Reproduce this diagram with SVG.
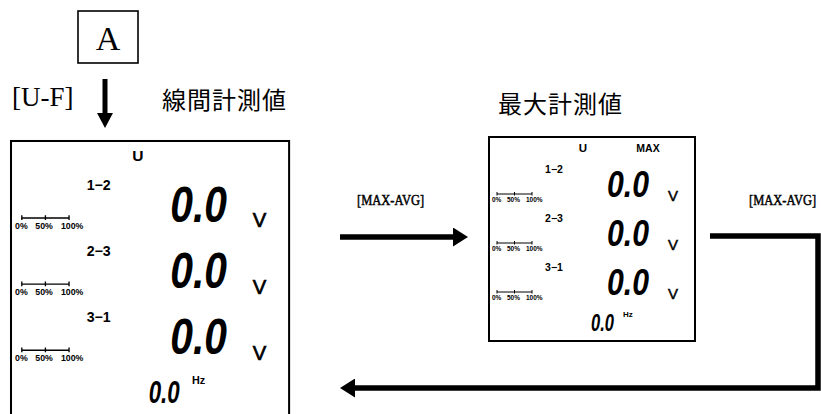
<svg xmlns="http://www.w3.org/2000/svg" width="821" height="414" viewBox="0 0 821 414">
<style>
.bx{fill:none;stroke:#000}
.serif{font-family:"Liberation Serif","Times New Roman",serif;fill:#000}
.jp{font-family:"Noto Sans CJK JP","Noto Sans CJK SC",sans-serif;fill:#000;font-size:24px;letter-spacing:1px}
.key{font-family:"Liberation Serif","Times New Roman",serif;font-size:12.5px;fill:#000;stroke:#000;stroke-width:0.4}
.lb{font-family:"Liberation Sans",Arial,sans-serif;font-weight:bold;fill:#000}
.seg{font-family:"Liberation Sans",Arial,sans-serif;font-weight:bold;font-style:italic;fill:#000}
.v{font-family:"Liberation Sans",Arial,sans-serif;fill:#000;font-size:15px;stroke:#000;stroke-width:0.5}
.pct{font-family:"Liberation Sans",Arial,sans-serif;font-weight:bold;fill:#000;font-size:6.5px}
.bar{fill:none;stroke:#000;stroke-width:1}
.conn{fill:none;stroke:#000;stroke-width:5.5;stroke-linejoin:miter}
</style>
<defs>
<marker id="hd" markerUnits="userSpaceOnUse" viewBox="0 0 15 19" markerWidth="15" markerHeight="19" refX="0" refY="9.5" orient="auto">
<path d="M0,0 L15,9.5 L0,19 Z" fill="#000"/>
</marker>
<marker id="hd2" markerUnits="userSpaceOnUse" viewBox="0 0 15 16" markerWidth="15" markerHeight="16" refX="0" refY="8" orient="auto">
<path d="M0,0 L15,8 L0,16 Z" fill="#000"/>
</marker>
</defs>
<rect width="821" height="414" fill="#fff"/>

<g id="nodeA">
<rect class="bx" x="78" y="11" width="60" height="52" stroke-width="1.6"/>
<text class="serif" x="108" y="50" text-anchor="middle" font-size="34">A</text>
</g>

<g id="label-UF">
<text class="serif" x="12" y="106" font-size="27">[U-F]</text>
</g>

<g id="title-line">
<text class="jp" x="162" y="109">線間計測値</text>
</g>
<g id="title-max">
<text class="jp" x="498" y="113">最大計測値</text>
</g>

<g id="lcd-line" transform="translate(11,141) scale(1.35)">
<rect class="bx" x="0" y="0" width="206" height="206" stroke-width="1.5"/>
<text class="lb" x="94" y="15" text-anchor="middle" font-size="11.5">U</text>
<text class="lb" x="65" y="36" text-anchor="middle" font-size="10.5">1−2</text>
<text class="seg" x="118" y="60" font-size="37" textLength="42" lengthAdjust="spacingAndGlyphs">0.0</text>
<text class="v" x="184" y="64" text-anchor="middle">V</text>
<path class="bar" d="M8,57 H43 M8,55 V58.5 M25.5,55 V58.5 M43,55 V58.5"/>
<text class="pct" x="3" y="65">0%</text><text class="pct" x="18" y="65">50%</text><text class="pct" x="37" y="65">100%</text>
<text class="lb" x="65" y="85" text-anchor="middle" font-size="10.5">2−3</text>
<text class="seg" x="118" y="109" font-size="37" textLength="42" lengthAdjust="spacingAndGlyphs">0.0</text>
<text class="v" x="184" y="113" text-anchor="middle">V</text>
<path class="bar" d="M8,106 H43 M8,104 V107.5 M25.5,104 V107.5 M43,104 V107.5"/>
<text class="pct" x="3" y="114">0%</text><text class="pct" x="18" y="114">50%</text><text class="pct" x="37" y="114">100%</text>
<text class="lb" x="65" y="134" text-anchor="middle" font-size="10.5">3−1</text>
<text class="seg" x="118" y="158" font-size="37" textLength="42" lengthAdjust="spacingAndGlyphs">0.0</text>
<text class="v" x="184" y="162" text-anchor="middle">V</text>
<path class="bar" d="M8,155 H43 M8,153 V156.5 M25.5,153 V156.5 M43,153 V156.5"/>
<text class="pct" x="3" y="163">0%</text><text class="pct" x="18" y="163">50%</text><text class="pct" x="37" y="163">100%</text>
<text class="seg" x="102" y="194" font-size="23" textLength="23" lengthAdjust="spacingAndGlyphs">0.0</text>
<text class="lb" x="134" y="180" font-size="8">Hz</text>
</g>

<g id="lcd-max" transform="translate(489,137)">
<rect class="bx" x="0" y="0" width="206" height="204" stroke-width="2"/>
<text class="lb" x="94" y="15" text-anchor="middle" font-size="11.5">U</text>
<text class="lb" x="159" y="15" text-anchor="middle" font-size="10.5">MAX</text>
<text class="lb" x="65" y="36" text-anchor="middle" font-size="10.5">1−2</text>
<text class="seg" x="118" y="60" font-size="37" textLength="42" lengthAdjust="spacingAndGlyphs">0.0</text>
<text class="v" x="184" y="64" text-anchor="middle">V</text>
<path class="bar" d="M8,57 H43 M8,55 V58.5 M25.5,55 V58.5 M43,55 V58.5"/>
<text class="pct" x="3" y="65">0%</text><text class="pct" x="18" y="65">50%</text><text class="pct" x="37" y="65">100%</text>
<text class="lb" x="65" y="85" text-anchor="middle" font-size="10.5">2−3</text>
<text class="seg" x="118" y="109" font-size="37" textLength="42" lengthAdjust="spacingAndGlyphs">0.0</text>
<text class="v" x="184" y="113" text-anchor="middle">V</text>
<path class="bar" d="M8,106 H43 M8,104 V107.5 M25.5,104 V107.5 M43,104 V107.5"/>
<text class="pct" x="3" y="114">0%</text><text class="pct" x="18" y="114">50%</text><text class="pct" x="37" y="114">100%</text>
<text class="lb" x="65" y="134" text-anchor="middle" font-size="10.5">3−1</text>
<text class="seg" x="118" y="158" font-size="37" textLength="42" lengthAdjust="spacingAndGlyphs">0.0</text>
<text class="v" x="184" y="162" text-anchor="middle">V</text>
<path class="bar" d="M8,155 H43 M8,153 V156.5 M25.5,153 V156.5 M43,153 V156.5"/>
<text class="pct" x="3" y="163">0%</text><text class="pct" x="18" y="163">50%</text><text class="pct" x="37" y="163">100%</text>
<text class="seg" x="102" y="194" font-size="23" textLength="23" lengthAdjust="spacingAndGlyphs">0.0</text>
<text class="lb" x="134" y="180" font-size="8">Hz</text>
</g>

<g id="connectors">
<path d="M105,79 V113" fill="none" stroke="#000" stroke-width="5" marker-end="url(#hd2)"/>
<path class="conn" d="M340,237 H453" marker-end="url(#hd)"/>
<path class="conn" d="M710,236 H818 V388 H355" marker-end="url(#hd)"/>
<text class="key" transform="translate(357,205) scale(1,1.2)" x="0" y="0">[MAX-AVG]</text>
<text class="key" transform="translate(749,205) scale(1,1.2)" x="0" y="0" font-size="12">[MAX-AVG]</text>
</g>
</svg>
